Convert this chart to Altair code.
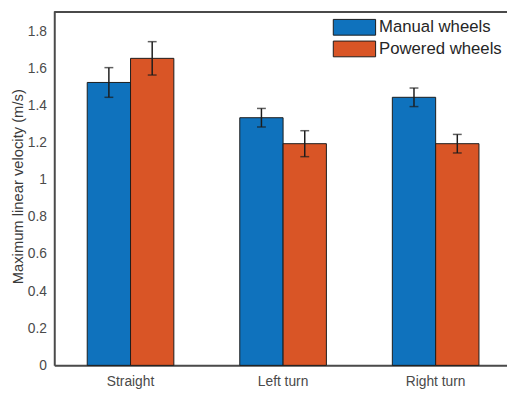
import altair as alt
import pandas as pd

conditions = ["Straight", "Left turn", "Right turn"]
series = ["Manual wheels", "Powered wheels"]
colors = ["#0F72BD", "#D95526"]
manual_mean = [1.525, 1.335, 1.445]
manual_err = [0.08, 0.05, 0.05]
powered_mean = [1.655, 1.195, 1.195]
powered_err = [0.09, 0.07, 0.05]
y_ticks = [0, 0.2, 0.4, 0.6, 0.8, 1.0, 1.2, 1.4, 1.6, 1.8]

rows = []
for i, c in enumerate(conditions):
    for s, m, e in ((series[0], manual_mean[i], manual_err[i]),
                    (series[1], powered_mean[i], powered_err[i])):
        rows.append({"condition": c, "wheels": s, "mean": m, "lo": m - e, "hi": m + e})
df = pd.DataFrame(rows)

FONT = "Liberation Sans"
AX = "#4a4a4a"
EDGE = "#1c1c1c"

x_enc = alt.X(
    "condition:N", sort=conditions, title=None,
    scale=alt.Scale(paddingInner=0, paddingOuter=0),
    axis=alt.Axis(labelAngle=0, ticks=False, tickSize=0, labelPadding=16,
                  labelBaseline="middle", domainColor=AX, domainWidth=2,
                  labelColor=AX, labelFontSize=14, labelFont=FONT),
)
xoff = alt.XOffset("wheels:N", sort=series,
                   scale=alt.Scale(paddingInner=0, paddingOuter=0.761))
y_scale = alt.Scale(domain=[0, 1.91], nice=False)
y_axis = alt.Axis(values=y_ticks, format=".1~f", ticks=False, tickSize=0,
                  grid=False, labelPadding=8, labelOverlap=False,
                  domainColor=AX, domainWidth=2,
                  labelColor=AX, labelFontSize=14, labelFont=FONT,
                  titleFont=FONT, titleFontSize=15, titleFontWeight="normal",
                  titleColor="#3a3a3a", titleX=-37.5, titleY=178,
                  titleAngle=270, titleAlign="center", titleBaseline="middle")
Y_TITLE = "Maximum linear velocity (m/s)"

bars = alt.Chart(df).mark_bar(stroke=EDGE, strokeWidth=1, opacity=1).encode(
    x=x_enc,
    xOffset=xoff,
    y=alt.Y("mean:Q", scale=y_scale, title=Y_TITLE, axis=y_axis),
    color=alt.Color("wheels:N", scale=alt.Scale(domain=series, range=colors),
                    legend=alt.Legend(title=None, orient="none", legendX=296.5, legendY=8,
                                      padding=0, symbolType="M-2.6875,-1L2.6875,-1L2.6875,1L-2.6875,1Z",
                                      symbolSize=256, symbolStrokeColor=EDGE,
                                      symbolStrokeWidth=1, symbolOpacity=1,
                                      labelFont=FONT, labelFontSize=17, labelColor="#262626",
                                      labelOffset=16.5, rowPadding=1)),
)

err = alt.Chart(df).mark_rule(color=EDGE, strokeWidth=1.5).encode(
    x=x_enc, xOffset=xoff,
    y=alt.Y("lo:Q", scale=y_scale, title=Y_TITLE, axis=y_axis), y2="hi:Q",
)
cap_lo = alt.Chart(df).mark_tick(color=EDGE, thickness=1.5, size=9, orient="horizontal").encode(
    x=x_enc, xOffset=xoff,
    y=alt.Y("lo:Q", scale=y_scale, title=Y_TITLE, axis=y_axis),
)
cap_hi = alt.Chart(df).mark_tick(color=EDGE, thickness=1.5, size=9, orient="horizontal").encode(
    x=x_enc, xOffset=xoff,
    y=alt.Y("hi:Q", scale=y_scale, title=Y_TITLE, axis=y_axis),
)
top = alt.Chart(pd.DataFrame({"edge": [0]})).mark_rule(color=AX, strokeWidth=2).encode(
    y=alt.value(1)
)

chart = alt.layer(bars, err, cap_lo, cap_hi, top).properties(
    width=465, height=360,
    autosize=alt.AutoSizeParams(type="none"),
    padding={"left": 47, "top": 0, "right": -5, "bottom": 26},
).configure_view(stroke=None).configure_axis(labelOverlap=False).configure(background="white")

chart.save("out.html", embed_options={"renderer": "svg", "actions": False})
